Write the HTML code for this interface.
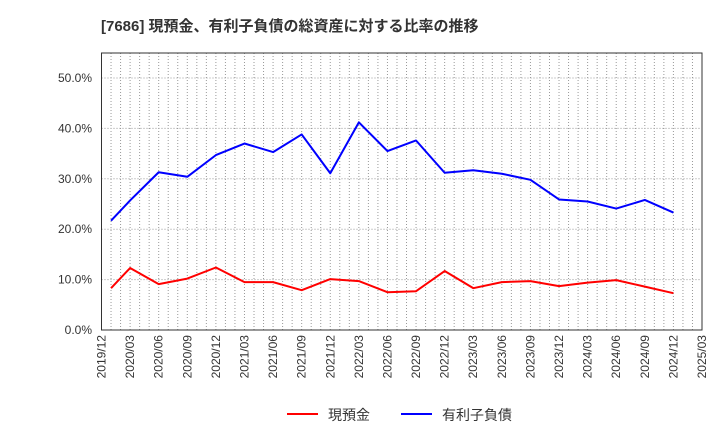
<!DOCTYPE html>
<html><head><meta charset="utf-8"><style>
body{margin:0;background:#fff;width:720px;height:440px;overflow:hidden}
svg text{font-family:"Liberation Sans","Noto Sans CJK JP",sans-serif}
</style></head><body>
<svg id="c" width="720" height="440" xmlns="http://www.w3.org/2000/svg">
<text x="101" y="31" font-size="15" font-weight="bold" fill="#333">[7686]  現預金、有利子負債の総資産に対する比率の推移</text>
<g id="grid"></g><g id="axes"></g><g id="series"></g>
<g>
<line x1="287" y1="414" x2="318" y2="414" stroke="#f00" stroke-width="2"/>
<text x="328" y="420" font-size="14" fill="#333">現預金</text>
<line x1="401" y1="414" x2="432" y2="414" stroke="#00f" stroke-width="2"/>
<text x="442" y="420" font-size="14" fill="#333">有利子負債</text>
</g>
</svg>
<script>
const months=[1,3,6,9,12,15,18,21,24,27,30,33,36,39,42,45,48,51,54,57,60];
const cash=[8.3,12.3,9.1,10.2,12.4,9.5,9.5,7.9,10.1,9.7,7.5,7.7,11.7,8.3,9.5,9.7,8.7,9.4,9.9,8.6,7.3];
const debt=[21.7,25.7,31.3,30.4,34.7,37.0,35.3,38.8,31.1,41.2,35.5,37.6,31.2,31.7,31.0,29.8,25.9,25.5,24.1,25.8,23.3];
const yTicks=[0,10,20,30,40,50];
const xTickLabels=["2019/12","2020/03","2020/06","2020/09","2020/12","2021/03","2021/06","2021/09","2021/12","2022/03","2022/06","2022/09","2022/12","2023/03","2023/06","2023/09","2023/12","2024/03","2024/06","2024/09","2024/12","2025/03"];
const L=101.5,R=702,T=53,B=330,NM=63;
const x=m=>L+(R-L)*m/NM;
const y=v=>B-(B-78)*v/50;
const ns="http://www.w3.org/2000/svg";
function mk(p,t,a){const e=document.createElementNS(ns,t);for(const k in a)e.setAttribute(k,a[k]);p.appendChild(e);return e;}
const g=document.getElementById('grid'),ax=document.getElementById('axes'),s=document.getElementById('series');
for(let m=1;m<NM;m++){
const l=mk(g,'line',{x1:x(m),x2:x(m),y1:T,y2:B,stroke:'#999','stroke-width':1,'stroke-dasharray':'1,2'});


}
yTicks.forEach(v=>{
if(v>0){const l=mk(g,'line',{x1:L,x2:R,y1:y(v),y2:y(v),stroke:'#999','stroke-width':1,'stroke-dasharray':'1,2'});

}
const t=mk(ax,'text',{x:92,y:y(v)+4,'font-size':12,'text-anchor':'end',fill:'#333'});t.textContent=v.toFixed(1)+'%';


});
const fr=mk(ax,'rect',{x:L,y:T,width:R-L,height:B-T,fill:'none',stroke:'#333','stroke-width':1});


xTickLabels.forEach((lb,i)=>{
const px=x(i*3);
const t=mk(ax,'text',{x:0,y:0,'font-size':12,'text-anchor':'end',fill:'#333',transform:`translate(${px+4},335) rotate(-90)`});t.textContent=lb;


});
function line(vals,col,name){
const p=mk(s,'polyline',{points:vals.map((v,i)=>x(months[i])+','+y(v)).join(' '),fill:'none',stroke:col,'stroke-width':2,'stroke-linejoin':'round'});


}
line(debt,'#00f','debt-line');
line(cash,'#f00','cash-line');
</script>
</body></html>
